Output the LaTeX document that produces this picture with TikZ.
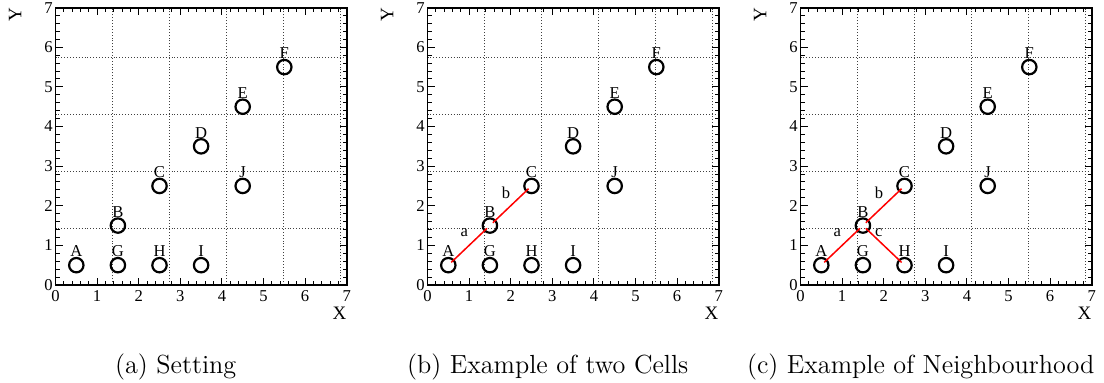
\documentclass[tikz,border=0pt]{standalone}
\usepackage{fontspec}
\newfontfamily\rootfont{Liberation Serif}
\usetikzlibrary{positioning}

% frame, grid, ticks and axis titles of one panel (data units)
\newcommand{\plotframe}[1]{%
    \draw[gridline] (0,0) grid (7,7);
    \foreach \k in {0,...,35} {
        \pgfmathsetmacro{\t}{\k/5}
        \draw[tick] (\t,0) -- ++(0,2pt);
        \draw[tick] (\t,7) -- ++(0,-2pt);
        \draw[tick] (0,\t) -- ++(2pt,0);
        \draw[tick] (7,\t) -- ++(-2pt,0);
    }
    \foreach \i in {0,...,7} {
        \draw[tick] (\i,0) -- ++(0,3.6pt);
        \draw[tick] (\i,7) -- ++(0,-3.6pt);
        \draw[tick] (0,\i) -- ++(3.6pt,0);
        \draw[tick] (7,\i) -- ++(-3.6pt,0);
        \node[ticklabel, anchor=north] (#1-x\i) at ([yshift=-2.4pt]\i,0) {\i};
        \node[ticklabel, anchor=east] (#1-y\i) at ([xshift=-1.2pt]0,\i) {\i};
    }
    \draw[frame] (0,0) rectangle (7,7);
    \node[axistitle, anchor=east] (#1-X) at (7,-0.71) {X};
    \node[axistitle, rotate=90] (#1-Y) at (-0.97,6.82) {Y};
}

% the ten points A--J
\newcommand{\plotpoints}[1]{%
    \foreach \n/\x/\y in {A/0.5/0.5, B/1.5/1.5, C/2.5/2.5, D/3.5/3.5, E/4.5/4.5,
                          F/5.5/5.5, G/1.5/0.5, H/2.5/0.5, I/3.5/0.5, J/4.5/2.5}
        \node[pt, label={[ptlabel]90:\n}] (#1-\n) at (\x,\y) {};
}

\begin{document}
\begin{tikzpicture}[
    gridline/.style={black!75, densely dotted, line width=0.45pt},
    tick/.style={black, line width=0.5pt},
    frame/.style={draw, line width=0.9pt},
    ticklabel/.style={font=\rootfont\fontsize{8.3}{9}\selectfont, inner sep=0pt},
    axistitle/.style={font=\rootfont\fontsize{9.5}{10}\selectfont, inner sep=0pt},
    pt/.style={circle, draw, line width=1.1pt, minimum size=7.2pt, inner sep=0pt,
        label distance=0.4pt, fill=none},
    ptlabel/.style={font=\rootfont\fontsize{8.3}{9}\selectfont, inner sep=0pt, anchor=base},
    cell/.style={draw=red, line width=0.75pt, shorten <=2pt, shorten >=2pt},
    celllabel/.style={font=\rootfont\fontsize{8.3}{9}\selectfont, inner sep=0pt,
        xshift=-2.4pt, yshift=6.4pt},
    caption/.style={font=\fontsize{13.1}{15}\selectfont, inner sep=0pt}
]
\useasboundingbox (0,0) rectangle (552pt,191.5pt);

% (a) Setting
\begin{scope}[shift={(27.75pt,49pt)}, x=20.8pt, y=19.81pt]
    \plotframe{a}
    \plotpoints{a}
    \node[caption] (a-cap) at (2.89,-2.06) {(a) Setting};
\end{scope}

% (b) Example of two Cells
\begin{scope}[shift={(213.75pt,49pt)}, x=20.8pt, y=19.81pt]
    \plotframe{b}
    \plotpoints{b}
    \draw[cell] (b-A.center) -- node[celllabel] (b-a) {a} (b-B.center);
    \draw[cell] (b-B.center) -- node[celllabel] (b-b) {b} (b-C.center);
    \node[caption] (b-cap) at (2.89,-2.06) {(b) Example of two Cells};
\end{scope}

% (c) Example of Neighbourhood
\begin{scope}[shift={(400.25pt,49pt)}, x=20.8pt, y=19.81pt]
    \plotframe{c}
    \plotpoints{c}
    \draw[cell] (c-A.center) -- node[celllabel] (c-a) {a} (c-B.center);
    \draw[cell] (c-B.center) -- node[celllabel] (c-b) {b} (c-C.center);
    \draw[cell] (c-B.center) -- node[celllabel] (c-c) {c} (c-H.center);
    \node[caption] (c-cap) at (2.89,-2.06) {(c) Example of Neighbourhood};
\end{scope}

\end{tikzpicture}
\end{document}
